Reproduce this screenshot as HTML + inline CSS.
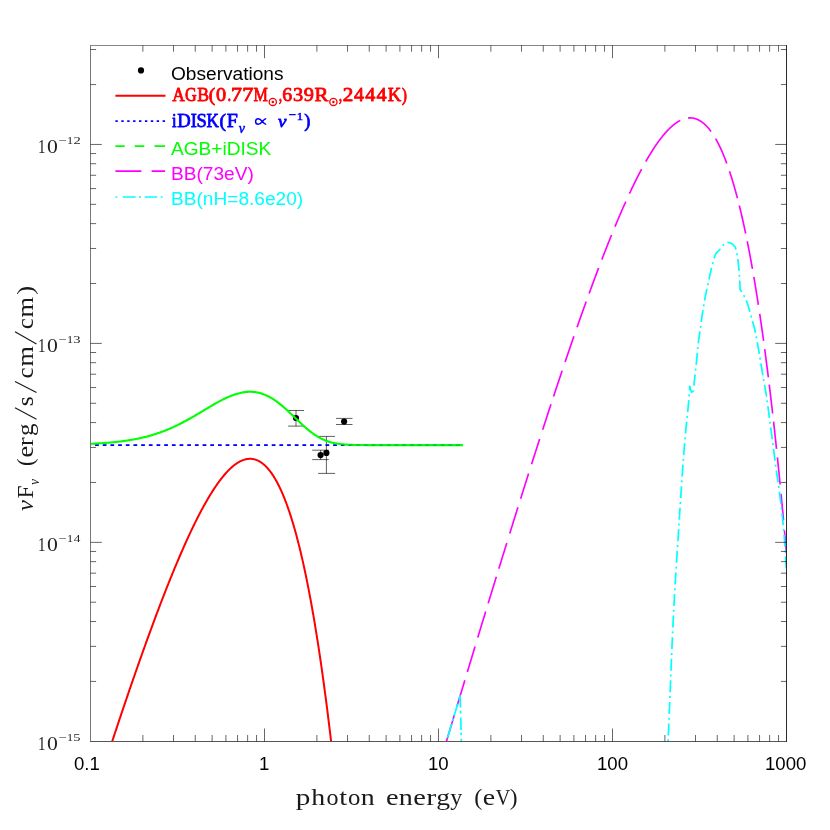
<!DOCTYPE html><html><head><meta charset="utf-8"><title>SED</title><style>
html,body{margin:0;padding:0;background:#fff;}
body{width:830px;height:830px;position:relative;overflow:hidden;font-family:"Liberation Sans",sans-serif;}
.t{position:absolute;white-space:nowrap;line-height:1;will-change:transform;}
.sans{font-family:"Liberation Sans",sans-serif;}
svg text{white-space:pre}
</style></head><body>
<svg width="830" height="830" viewBox="0 0 830 830" style="position:absolute;left:0;top:0;will-change:transform">
<defs><clipPath id="cp"><rect x="90.50" y="45.40" width="696.60" height="696.30"/></clipPath></defs>
<g stroke="#000" stroke-opacity="0.62" stroke-width="1" fill="none">
<path d="M296.00,410.50 V426.10 M288.10,410.50 H304.00 M288.10,426.10 H304.00"/>
<path d="M320.60,450.20 V459.60 M312.20,450.20 H328.80 M312.20,459.60 H328.80"/>
<path d="M326.40,436.40 V473.40 M318.20,436.40 H335.10 M318.20,473.40 H335.10"/>
<path d="M344.10,418.40 V424.50 M336.00,418.40 H352.50 M336.00,424.50 H352.50"/>
</g>
<circle cx="296.00" cy="418.00" r="3.1" fill="#000"/>
<circle cx="320.60" cy="455.10" r="3.1" fill="#000"/>
<circle cx="326.40" cy="452.90" r="3.1" fill="#000"/>
<circle cx="344.10" cy="421.60" r="3.1" fill="#000"/>
<g clip-path="url(#cp)" fill="none" stroke-linejoin="round">
<path d="M90.50,808.35 L91.14,806.33 L91.79,804.31 L92.43,802.29 L93.08,800.28 L93.72,798.27 L94.36,796.26 L95.01,794.25 L95.65,792.24 L96.30,790.23 L96.94,788.23 L97.59,786.23 L98.23,784.23 L98.87,782.23 L99.52,780.23 L100.16,778.24 L100.81,776.25 L101.45,774.26 L102.09,772.27 L102.74,770.28 L103.38,768.30 L104.03,766.32 L104.67,764.34 L105.32,762.36 L105.96,760.38 L106.60,758.41 L107.25,756.44 L107.89,754.47 L108.54,752.50 L109.18,750.54 L109.82,748.58 L110.47,746.62 L111.11,744.66 L111.76,742.71 L112.40,740.75 L113.05,738.80 L113.69,736.86 L114.33,734.91 L114.98,732.97 L115.62,731.03 L116.27,729.09 L116.91,727.15 L117.55,725.22 L118.20,723.29 L118.84,721.36 L119.49,719.44 L120.13,717.52 L120.78,715.60 L121.42,713.68 L122.06,711.77 L122.71,709.86 L123.35,707.95 L124.00,706.04 L124.64,704.14 L125.28,702.24 L125.93,700.35 L126.57,698.45 L127.22,696.56 L127.86,694.67 L128.51,692.79 L129.15,690.91 L129.79,689.03 L130.44,687.15 L131.08,685.28 L131.73,683.41 L132.37,681.55 L133.01,679.69 L133.66,677.83 L134.30,675.97 L134.95,674.12 L135.59,672.27 L136.24,670.43 L136.88,668.58 L137.52,666.75 L138.17,664.91 L138.81,663.08 L139.46,661.25 L140.10,659.43 L140.74,657.61 L141.39,655.79 L142.03,653.98 L142.68,652.17 L143.32,650.37 L143.97,648.57 L144.61,646.77 L145.25,644.98 L145.90,643.19 L146.54,641.40 L147.19,639.62 L147.83,637.85 L148.47,636.08 L149.12,634.31 L149.76,632.55 L150.41,630.79 L151.05,629.03 L151.70,627.28 L152.34,625.54 L152.98,623.79 L153.63,622.06 L154.27,620.33 L154.92,618.60 L155.56,616.88 L156.20,615.16 L156.85,613.45 L157.49,611.74 L158.14,610.03 L158.78,608.34 L159.42,606.64 L160.07,604.96 L160.71,603.27 L161.36,601.60 L162.00,599.92 L162.65,598.26 L163.29,596.60 L163.93,594.94 L164.58,593.29 L165.22,591.64 L165.87,590.00 L166.51,588.37 L167.15,586.74 L167.80,585.12 L168.44,583.50 L169.09,581.89 L169.73,580.29 L170.38,578.69 L171.02,577.10 L171.66,575.51 L172.31,573.93 L172.95,572.36 L173.60,570.79 L174.24,569.23 L174.88,567.68 L175.53,566.13 L176.17,564.59 L176.82,563.06 L177.46,561.53 L178.11,560.01 L178.75,558.50 L179.39,556.99 L180.04,555.49 L180.68,554.00 L181.33,552.52 L181.97,551.04 L182.61,549.57 L183.26,548.11 L183.90,546.65 L184.55,545.21 L185.19,543.77 L185.84,542.34 L186.48,540.91 L187.12,539.50 L187.77,538.09 L188.41,536.69 L189.06,535.30 L189.70,533.92 L190.34,532.55 L190.99,531.18 L191.63,529.82 L192.28,528.48 L192.92,527.14 L193.57,525.81 L194.21,524.49 L194.85,523.18 L195.50,521.87 L196.14,520.58 L196.79,519.30 L197.43,518.03 L198.07,516.76 L198.72,515.51 L199.36,514.26 L200.01,513.03 L200.65,511.80 L201.30,510.59 L201.94,509.39 L202.58,508.19 L203.23,507.01 L203.87,505.84 L204.52,504.68 L205.16,503.53 L205.80,502.39 L206.45,501.26 L207.09,500.14 L207.74,499.04 L208.38,497.94 L209.03,496.86 L209.67,495.79 L210.31,494.73 L210.96,493.69 L211.60,492.65 L212.25,491.63 L212.89,490.62 L213.53,489.63 L214.18,488.64 L214.82,487.67 L215.47,486.71 L216.11,485.77 L216.75,484.84 L217.40,483.92 L218.04,483.01 L218.69,482.12 L219.33,481.25 L219.98,480.38 L220.62,479.53 L221.26,478.70 L221.91,477.88 L222.55,477.07 L223.20,476.28 L223.84,475.51 L224.48,474.75 L225.13,474.00 L225.77,473.27 L226.42,472.56 L227.06,471.86 L227.71,471.18 L228.35,470.51 L228.99,469.86 L229.64,469.23 L230.28,468.61 L230.93,468.01 L231.57,467.43 L232.21,466.86 L232.86,466.32 L233.50,465.79 L234.15,465.27 L234.79,464.78 L235.44,464.30 L236.08,463.84 L236.72,463.40 L237.37,462.98 L238.01,462.58 L238.66,462.20 L239.30,461.83 L239.94,461.49 L240.59,461.16 L241.23,460.86 L241.88,460.57 L242.52,460.31 L243.17,460.07 L243.81,459.84 L244.45,459.64 L245.10,459.46 L245.74,459.30 L246.39,459.16 L247.03,459.05 L247.67,458.95 L248.32,458.88 L248.96,458.83 L249.61,458.80 L250.25,458.80 L250.90,458.82 L251.54,458.86 L252.18,458.93 L252.83,459.02 L253.47,459.14 L254.12,459.28 L254.76,459.44 L255.40,459.63 L256.05,459.84 L256.69,460.08 L257.34,460.35 L257.98,460.64 L258.63,460.95 L259.27,461.30 L259.91,461.67 L260.56,462.06 L261.20,462.49 L261.85,462.94 L262.49,463.42 L263.13,463.93 L263.78,464.46 L264.42,465.03 L265.07,465.62 L265.71,466.24 L266.36,466.89 L267.00,467.57 L267.64,468.28 L268.29,469.02 L268.93,469.80 L269.58,470.60 L270.22,471.43 L270.86,472.29 L271.51,473.19 L272.15,474.12 L272.80,475.08 L273.44,476.07 L274.09,477.10 L274.73,478.16 L275.37,479.25 L276.02,480.38 L276.66,481.54 L277.31,482.73 L277.95,483.96 L278.59,485.22 L279.24,486.52 L279.88,487.86 L280.53,489.23 L281.17,490.64 L281.81,492.08 L282.46,493.57 L283.10,495.08 L283.75,496.64 L284.39,498.24 L285.04,499.87 L285.68,501.54 L286.32,503.25 L286.97,505.00 L287.61,506.79 L288.26,508.62 L288.90,510.49 L289.54,512.40 L290.19,514.36 L290.83,516.35 L291.48,518.39 L292.12,520.46 L292.77,522.59 L293.41,524.75 L294.05,526.96 L294.70,529.21 L295.34,531.51 L295.99,533.85 L296.63,536.23 L297.27,538.66 L297.92,541.14 L298.56,543.66 L299.21,546.23 L299.85,548.85 L300.50,551.51 L301.14,554.22 L301.78,556.98 L302.43,559.79 L303.07,562.65 L303.72,565.56 L304.36,568.51 L305.00,571.52 L305.65,574.58 L306.29,577.69 L306.94,580.85 L307.58,584.07 L308.23,587.33 L308.87,590.65 L309.51,594.03 L310.16,597.45 L310.80,600.93 L311.45,604.47 L312.09,608.06 L312.73,611.71 L313.38,615.41 L314.02,619.18 L314.67,622.99 L315.31,626.87 L315.96,630.81 L316.60,634.80 L317.24,638.85 L317.89,642.96 L318.53,647.14 L319.18,651.37 L319.82,655.67 L320.46,660.02 L321.11,664.44 L321.75,668.93 L322.40,673.47 L323.04,678.08 L323.69,682.76 L324.33,687.50 L324.97,692.31 L325.62,697.18 L326.26,702.12 L326.91,707.13 L327.55,712.20 L328.19,717.35 L328.84,722.56 L329.48,727.84 L330.13,733.20 L330.77,738.62 L331.42,744.12 L332.06,749.68 L332.70,755.33 L333.35,761.04 L333.99,766.83 L334.64,772.69 L335.28,778.63 L335.92,784.65 L336.57,790.74 L337.21,796.91 L337.86,803.15 L338.50,809.48 L339.15,815.89 L339.79,822.37 L340.43,828.94 L341.08,835.58 L341.72,842.31 L342.37,849.13 L343.01,856.02 L343.65,863.00 L344.30,870.07 L344.94,877.22 L345.59,884.46 L346.23,891.78 L346.87,899.19 L347.52,906.69" stroke="#ff0000" stroke-width="2"/>
<path d="M90.50,445.10 L462.90,445.10" stroke="#0000ff" stroke-width="1.9" stroke-dasharray="3.7 3.98" stroke-dashoffset="3.08"/>
<path d="M90.50,443.82 L91.43,443.77 L92.36,443.73 L93.29,443.68 L94.22,443.63 L95.15,443.58 L96.08,443.53 L97.01,443.48 L97.94,443.42 L98.87,443.37 L99.80,443.31 L100.73,443.25 L101.66,443.19 L102.60,443.13 L103.53,443.06 L104.46,442.99 L105.39,442.92 L106.32,442.85 L107.25,442.78 L108.18,442.70 L109.11,442.62 L110.04,442.54 L110.97,442.45 L111.90,442.37 L112.83,442.28 L113.76,442.19 L114.69,442.09 L115.62,442.00 L116.55,441.90 L117.48,441.79 L118.41,441.69 L119.34,441.58 L120.27,441.46 L121.20,441.35 L122.13,441.23 L123.06,441.11 L123.99,440.98 L124.93,440.85 L125.86,440.72 L126.79,440.58 L127.72,440.44 L128.65,440.29 L129.58,440.15 L130.51,439.99 L131.44,439.83 L132.37,439.67 L133.30,439.51 L134.23,439.34 L135.16,439.16 L136.09,438.98 L137.02,438.80 L137.95,438.61 L138.88,438.41 L139.81,438.21 L140.74,438.01 L141.67,437.80 L142.60,437.59 L143.53,437.37 L144.46,437.14 L145.39,436.91 L146.32,436.67 L147.26,436.43 L148.19,436.18 L149.12,435.93 L150.05,435.67 L150.98,435.40 L151.91,435.13 L152.84,434.86 L153.77,434.57 L154.70,434.28 L155.63,433.98 L156.56,433.68 L157.49,433.37 L158.42,433.06 L159.35,432.73 L160.28,432.41 L161.21,432.07 L162.14,431.73 L163.07,431.38 L164.00,431.02 L164.93,430.66 L165.86,430.29 L166.79,429.92 L167.72,429.53 L168.65,429.15 L169.59,428.75 L170.52,428.35 L171.45,427.94 L172.38,427.52 L173.31,427.10 L174.24,426.67 L175.17,426.24 L176.10,425.80 L177.03,425.35 L177.96,424.89 L178.89,424.43 L179.82,423.97 L180.75,423.49 L181.68,423.02 L182.61,422.53 L183.54,422.04 L184.47,421.55 L185.40,421.05 L186.33,420.54 L187.26,420.03 L188.19,419.52 L189.12,419.00 L190.05,418.47 L190.98,417.95 L191.92,417.41 L192.85,416.88 L193.78,416.34 L194.71,415.80 L195.64,415.25 L196.57,414.70 L197.50,414.15 L198.43,413.60 L199.36,413.05 L200.29,412.49 L201.22,411.94 L202.15,411.38 L203.08,410.82 L204.01,410.26 L204.94,409.71 L205.87,409.15 L206.80,408.59 L207.73,408.04 L208.66,407.48 L209.59,406.93 L210.52,406.39 L211.45,405.84 L212.38,405.30 L213.31,404.76 L214.25,404.23 L215.18,403.70 L216.11,403.17 L217.04,402.66 L217.97,402.14 L218.90,401.64 L219.83,401.14 L220.76,400.65 L221.69,400.17 L222.62,399.69 L223.55,399.23 L224.48,398.77 L225.41,398.32 L226.34,397.89 L227.27,397.46 L228.20,397.05 L229.13,396.65 L230.06,396.26 L230.99,395.88 L231.92,395.52 L232.85,395.17 L233.78,394.83 L234.71,394.51 L235.64,394.21 L236.58,393.92 L237.51,393.65 L238.44,393.39 L239.37,393.15 L240.30,392.93 L241.23,392.73 L242.16,392.55 L243.09,392.38 L244.02,392.23 L244.95,392.11 L245.88,392.00 L246.81,391.92 L247.74,391.85 L248.67,391.81 L249.60,391.79 L250.53,391.79 L251.46,391.81 L252.39,391.86 L253.32,391.93 L254.25,392.02 L255.18,392.14 L256.11,392.28 L257.04,392.44 L257.97,392.63 L258.91,392.84 L259.84,393.07 L260.77,393.34 L261.70,393.62 L262.63,393.93 L263.56,394.26 L264.49,394.62 L265.42,395.01 L266.35,395.42 L267.28,395.85 L268.21,396.31 L269.14,396.79 L270.07,397.29 L271.00,397.82 L271.93,398.37 L272.86,398.94 L273.79,399.54 L274.72,400.16 L275.65,400.80 L276.58,401.46 L277.51,402.14 L278.44,402.85 L279.37,403.57 L280.30,404.31 L281.24,405.06 L282.17,405.84 L283.10,406.63 L284.03,407.43 L284.96,408.25 L285.89,409.09 L286.82,409.93 L287.75,410.79 L288.68,411.65 L289.61,412.53 L290.54,413.41 L291.47,414.30 L292.40,415.19 L293.33,416.09 L294.26,416.99 L295.19,417.89 L296.12,418.79 L297.05,419.68 L297.98,420.58 L298.91,421.47 L299.84,422.36 L300.77,423.23 L301.70,424.11 L302.63,424.97 L303.57,425.82 L304.50,426.65 L305.43,427.48 L306.36,428.29 L307.29,429.08 L308.22,429.86 L309.15,430.62 L310.08,431.36 L311.01,432.08 L311.94,432.78 L312.87,433.47 L313.80,434.13 L314.73,434.76 L315.66,435.38 L316.59,435.97 L317.52,436.54 L318.45,437.09 L319.38,437.62 L320.31,438.12 L321.24,438.60 L322.17,439.05 L323.10,439.49 L324.03,439.90 L324.96,440.29 L325.90,440.65 L326.83,441.00 L327.76,441.33 L328.69,441.63 L329.62,441.92 L330.55,442.19 L331.48,442.44 L332.41,442.67 L333.34,442.89 L334.27,443.09 L335.20,443.28 L336.13,443.45 L337.06,443.61 L337.99,443.76 L338.92,443.89 L339.85,444.01 L340.78,444.13 L341.71,444.23 L342.64,444.32 L343.57,444.41 L344.50,444.48 L345.43,444.55 L346.36,444.62 L347.29,444.67 L348.23,444.72 L349.16,444.77 L350.09,444.81 L351.02,444.84 L351.95,444.88 L352.88,444.90 L353.81,444.93 L354.74,444.95 L355.67,444.97 L356.60,444.99 L357.53,445.00 L358.46,445.02 L359.39,445.03 L360.32,445.04 L361.25,445.05 L362.18,445.05 L363.11,445.06 L364.04,445.07 L364.97,445.07 L365.90,445.08 L366.83,445.08 L367.76,445.08 L368.69,445.08 L369.62,445.09 L370.56,445.09 L371.49,445.09 L372.42,445.09 L373.35,445.09 L374.28,445.09 L375.21,445.09 L376.14,445.09 L377.07,445.09 L378.00,445.09 L378.93,445.10 L379.86,445.10 L380.79,445.10 L381.72,445.10 L382.65,445.10 L383.58,445.10 L384.51,445.10 L385.44,445.10 L386.37,445.10 L387.30,445.10 L388.23,445.10 L389.16,445.10 L390.09,445.10 L391.02,445.10 L391.95,445.10 L392.89,445.10 L393.82,445.10 L394.75,445.10 L395.68,445.10 L396.61,445.10 L397.54,445.10 L398.47,445.10 L399.40,445.10 L400.33,445.10 L401.26,445.10 L402.19,445.10 L403.12,445.10 L404.05,445.10 L404.98,445.10 L405.91,445.10 L406.84,445.10 L407.77,445.10 L408.70,445.10 L409.63,445.10 L410.56,445.10 L411.49,445.10 L412.42,445.10 L413.35,445.10 L414.28,445.10 L415.21,445.10 L416.15,445.10 L417.08,445.10 L418.01,445.10 L418.94,445.10 L419.87,445.10 L420.80,445.10 L421.73,445.10 L422.66,445.10 L423.59,445.10 L424.52,445.10 L425.45,445.10 L426.38,445.10 L427.31,445.10 L428.24,445.10 L429.17,445.10 L430.10,445.10 L431.03,445.10 L431.96,445.10 L432.89,445.10 L433.82,445.10 L434.75,445.10 L435.68,445.10 L436.61,445.10 L437.54,445.10 L438.48,445.10 L439.41,445.10 L440.34,445.10 L441.27,445.10 L442.20,445.10 L443.13,445.10 L444.06,445.10 L444.99,445.10 L445.92,445.10 L446.85,445.10 L447.78,445.10 L448.71,445.10 L449.64,445.10 L450.57,445.10 L451.50,445.10 L452.43,445.10 L453.36,445.10 L454.29,445.10 L455.22,445.10 L456.15,445.10 L457.08,445.10 L458.01,445.10 L458.94,445.10 L459.87,445.10 L460.81,445.10 L461.74,445.10 L462.90,445.10" stroke="#00ff00" stroke-width="2.1"/>
<path d="M90.50,445.10 L462.90,445.10" stroke="#0000ff" stroke-opacity="0.2" stroke-width="1.9" stroke-dasharray="3.7 3.98" stroke-dashoffset="3.08"/>
<path d="M446.47,741.30 L446.70,740.54 L446.93,739.79 L447.15,739.03 L447.38,738.27 L447.61,737.51 L447.83,736.76 L448.06,736.00 L448.29,735.24 L448.51,734.49 L448.74,733.73 L448.97,732.97 L449.20,732.22 L449.42,731.46 L449.65,730.70 L449.88,729.95 L450.10,729.19 L450.33,728.44 L450.56,727.68 L450.78,726.92 L451.01,726.17 L451.24,725.41 L451.46,724.65 L451.69,723.90 L451.92,723.14 L452.14,722.39 L452.37,721.63 L452.60,720.88 L452.82,720.12 L453.05,719.37 L453.28,718.61 L453.51,717.85 L453.73,717.10 L453.96,716.34 L454.19,715.59 L454.41,714.83 L454.64,714.08 L454.87,713.32 L455.09,712.57 L455.32,711.82 L455.55,711.06 L455.77,710.31 L456.00,709.55 L456.23,708.80 L456.45,708.04 L456.68,707.29 L456.91,706.53 L457.13,705.78 L457.36,705.03 L457.59,704.27 L457.81,703.52 L458.04,702.76 L458.27,702.01 L458.50,701.26 L458.72,700.50 L458.95,699.75 L459.18,699.00 L459.40,698.24 L459.63,697.49 L459.86,696.74 L460.08,695.98 L460.31,695.23 L460.54,694.48 L460.76,693.72 L460.99,692.97 L461.22,692.22 L461.44,691.47 L461.67,690.71 L461.90,689.96 L462.12,689.21 L462.35,688.46 L462.58,687.70 L462.81,686.95 L463.03,686.20 L463.26,685.45 L463.49,684.70 L463.71,683.94 L463.94,683.19 L464.17,682.44 L464.39,681.69 L464.62,680.94 L464.85,680.19 L465.07,679.43 L465.30,678.68 L465.53,677.93 L465.75,677.18 L465.98,676.43 L466.21,675.68 L466.43,674.93 L466.66,674.18 L466.89,673.43 L467.12,672.68 L467.34,671.93 L467.57,671.18 L467.80,670.42 L468.02,669.67 L468.25,668.92 L468.48,668.17 L468.70,667.42 L468.93,666.67 L469.16,665.92 L469.38,665.17 L469.61,664.43 L469.84,663.68 L470.06,662.93 L470.29,662.18 L470.52,661.43 L470.74,660.68 L470.97,659.93 L471.20,659.18 L471.43,658.43 L471.65,657.68 L471.88,656.93 L472.11,656.18 L472.33,655.44 L472.56,654.69 L472.79,653.94 L473.01,653.19 L473.24,652.44 L473.47,651.69 L473.69,650.95 L473.92,650.20 L474.15,649.45 L474.37,648.70 L474.60,647.96 L474.83,647.21 L475.05,646.46 L475.28,645.71 L475.51,644.97 L475.74,644.22 L475.96,643.47 L476.19,642.72 L476.42,641.98 L476.64,641.23 L476.87,640.48 L477.10,639.74 L477.32,638.99 L477.55,638.24 L477.78,637.50 L478.00,636.75 L478.23,636.01 L478.46,635.26 L478.68,634.51 L478.91,633.77 L479.14,633.02 L479.36,632.28 L479.59,631.53 L479.82,630.79 L480.04,630.04 L480.27,629.30 L480.50,628.55 L480.73,627.81 L480.95,627.06 L481.18,626.32 L481.41,625.57 L481.63,624.83 L481.86,624.08 L482.09,623.34 L482.31,622.59 L482.54,621.85 L482.77,621.11 L482.99,620.36 L483.22,619.62 L483.45,618.87 L483.67,618.13 L483.90,617.39 L484.13,616.64 L484.35,615.90 L484.58,615.16 L484.81,614.41 L485.04,613.67 L485.26,612.93 L485.49,612.19 L485.72,611.44 L485.94,610.70 L486.17,609.96 L486.40,609.22 L486.62,608.47 L486.85,607.73 L487.08,606.99 L487.30,606.25 L487.53,605.51 L487.76,604.76 L487.98,604.02 L488.21,603.28 L488.44,602.54 L488.66,601.80 L488.89,601.06 L489.12,600.32 L489.35,599.58 L489.57,598.84 L489.80,598.09 L490.03,597.35 L490.25,596.61 L490.48,595.87 L490.71,595.13 L490.93,594.39 L491.16,593.65 L491.39,592.91 L491.61,592.17 L491.84,591.43 L492.07,590.70 L492.29,589.96 L492.52,589.22 L492.75,588.48 L492.97,587.74 L493.20,587.00 L493.43,586.26 L493.66,585.52 L493.88,584.78 L494.11,584.05 L494.34,583.31 L494.56,582.57 L494.79,581.83 L495.02,581.09 L495.24,580.36 L495.47,579.62 L495.70,578.88 L495.92,578.15 L496.15,577.41 L496.38,576.67 L496.60,575.93 L496.83,575.20 L497.06,574.46 L497.28,573.72 L497.51,572.99 L497.74,572.25 L497.96,571.52 L498.19,570.78 L498.42,570.04 L498.65,569.31 L498.87,568.57 L499.10,567.84 L499.33,567.10 L499.55,566.37 L499.78,565.63 L500.01,564.90 L500.23,564.16 L500.46,563.43 L500.69,562.69 L500.91,561.96 L501.14,561.22 L501.37,560.49 L501.59,559.76 L501.82,559.02 L502.05,558.29 L502.27,557.56 L502.50,556.82 L502.73,556.09 L502.96,555.36 L503.18,554.62 L503.41,553.89 L503.64,553.16 L503.86,552.43 L504.09,551.69 L504.32,550.96 L504.54,550.23 L504.77,549.50 L505.00,548.76 L505.22,548.03 L505.45,547.30 L505.68,546.57 L505.90,545.84 L506.13,545.11 L506.36,544.38 L506.58,543.65 L506.81,542.92 L507.04,542.19 L507.27,541.46 L507.49,540.73 L507.72,540.00 L507.95,539.27 L508.17,538.54 L508.40,537.81 L508.63,537.08 L508.85,536.35 L509.08,535.62 L509.31,534.89 L509.53,534.16 L509.76,533.43 L509.99,532.70 L510.21,531.98 L510.44,531.25 L510.67,530.52 L510.89,529.79 L511.12,529.06 L511.35,528.34 L511.58,527.61 L511.80,526.88 L512.03,526.16 L512.26,525.43 L512.48,524.70 L512.71,523.98 L512.94,523.25 L513.16,522.52 L513.39,521.80 L513.62,521.07 L513.84,520.35 L514.07,519.62 L514.30,518.89 L514.52,518.17 L514.75,517.44 L514.98,516.72 L515.20,515.99 L515.43,515.27 L515.66,514.55 L515.88,513.82 L516.11,513.10 L516.34,512.37 L516.57,511.65 L516.79,510.93 L517.02,510.20 L517.25,509.48 L517.47,508.76 L517.70,508.03 L517.93,507.31 L518.15,506.59 L518.38,505.87 L518.61,505.15 L518.83,504.42 L519.06,503.70 L519.29,502.98 L519.51,502.26 L519.74,501.54 L519.97,500.82 L520.19,500.10 L520.42,499.38 L520.65,498.66 L520.88,497.93 L521.10,497.21 L521.33,496.50 L521.56,495.78 L521.78,495.06 L522.01,494.34 L522.24,493.62 L522.46,492.90 L522.69,492.18 L522.92,491.46 L523.14,490.74 L523.37,490.02 L523.60,489.31 L523.82,488.59 L524.05,487.87 L524.28,487.15 L524.50,486.44 L524.73,485.72 L524.96,485.00 L525.19,484.29 L525.41,483.57 L525.64,482.85 L525.87,482.14 L526.09,481.42 L526.32,480.71 L526.55,479.99 L526.77,479.28 L527.00,478.56 L527.23,477.85 L527.45,477.13 L527.68,476.42 L527.91,475.70 L528.13,474.99 L528.36,474.28 L528.59,473.56 L528.81,472.85 L529.04,472.14 L529.27,471.42 L529.50,470.71 L529.72,470.00 L529.95,469.28 L530.18,468.57 L530.40,467.86 L530.63,467.15 L530.86,466.44 L531.08,465.73 L531.31,465.02 L531.54,464.30 L531.76,463.59 L531.99,462.88 L532.22,462.17 L532.44,461.46 L532.67,460.75 L532.90,460.04 L533.12,459.33 L533.35,458.63 L533.58,457.92 L533.80,457.21 L534.03,456.50 L534.26,455.79 L534.49,455.08 L534.71,454.38 L534.94,453.67 L535.17,452.96 L535.39,452.25 L535.62,451.55 L535.85,450.84 L536.07,450.13 L536.30,449.43 L536.53,448.72 L536.75,448.02 L536.98,447.31 L537.21,446.61 L537.43,445.90 L537.66,445.20 L537.89,444.49 L538.11,443.79 L538.34,443.08 L538.57,442.38 L538.80,441.68 L539.02,440.97 L539.25,440.27 L539.48,439.57 L539.70,438.87 L539.93,438.16 L540.16,437.46 L540.38,436.76 L540.61,436.06 L540.84,435.36 L541.06,434.66 L541.29,433.95 L541.52,433.25 L541.74,432.55 L541.97,431.85 L542.20,431.15 L542.42,430.45 L542.65,429.76 L542.88,429.06 L543.11,428.36 L543.33,427.66 L543.56,426.96 L543.79,426.26 L544.01,425.57 L544.24,424.87 L544.47,424.17 L544.69,423.47 L544.92,422.78 L545.15,422.08 L545.37,421.38 L545.60,420.69 L545.83,419.99 L546.05,419.30 L546.28,418.60 L546.51,417.91 L546.73,417.21 L546.96,416.52 L547.19,415.83 L547.42,415.13 L547.64,414.44 L547.87,413.75 L548.10,413.05 L548.32,412.36 L548.55,411.67 L548.78,410.98 L549.00,410.28 L549.23,409.59 L549.46,408.90 L549.68,408.21 L549.91,407.52 L550.14,406.83 L550.36,406.14 L550.59,405.45 L550.82,404.76 L551.04,404.07 L551.27,403.38 L551.50,402.69 L551.72,402.01 L551.95,401.32 L552.18,400.63 L552.41,399.94 L552.63,399.26 L552.86,398.57 L553.09,397.88 L553.31,397.20 L553.54,396.51 L553.77,395.83 L553.99,395.14 L554.22,394.45 L554.45,393.77 L554.67,393.09 L554.90,392.40 L555.13,391.72 L555.35,391.03 L555.58,390.35 L555.81,389.67 L556.03,388.99 L556.26,388.30 L556.49,387.62 L556.72,386.94 L556.94,386.26 L557.17,385.58 L557.40,384.90 L557.62,384.22 L557.85,383.54 L558.08,382.86 L558.30,382.18 L558.53,381.50 L558.76,380.82 L558.98,380.14 L559.21,379.47 L559.44,378.79 L559.66,378.11 L559.89,377.43 L560.12,376.76 L560.34,376.08 L560.57,375.41 L560.80,374.73 L561.03,374.05 L561.25,373.38 L561.48,372.70 L561.71,372.03 L561.93,371.36 L562.16,370.68 L562.39,370.01 L562.61,369.34 L562.84,368.66 L563.07,367.99 L563.29,367.32 L563.52,366.65 L563.75,365.98 L563.97,365.31 L564.20,364.64 L564.43,363.97 L564.65,363.30 L564.88,362.63 L565.11,361.96 L565.34,361.29 L565.56,360.62 L565.79,359.95 L566.02,359.29 L566.24,358.62 L566.47,357.95 L566.70,357.29 L566.92,356.62 L567.15,355.96 L567.38,355.29 L567.60,354.63 L567.83,353.96 L568.06,353.30 L568.28,352.63 L568.51,351.97 L568.74,351.31 L568.96,350.64 L569.19,349.98 L569.42,349.32 L569.65,348.66 L569.87,348.00 L570.10,347.34 L570.33,346.68 L570.55,346.02 L570.78,345.36 L571.01,344.70 L571.23,344.04 L571.46,343.38 L571.69,342.72 L571.91,342.07 L572.14,341.41 L572.37,340.75 L572.59,340.10 L572.82,339.44 L573.05,338.79 L573.27,338.13 L573.50,337.48 L573.73,336.82 L573.95,336.17 L574.18,335.52 L574.41,334.86 L574.64,334.21 L574.86,333.56 L575.09,332.91 L575.32,332.26 L575.54,331.60 L575.77,330.95 L576.00,330.30 L576.22,329.65 L576.45,329.01 L576.68,328.36 L576.90,327.71 L577.13,327.06 L577.36,326.41 L577.58,325.77 L577.81,325.12 L578.04,324.47 L578.26,323.83 L578.49,323.18 L578.72,322.54 L578.95,321.90 L579.17,321.25 L579.40,320.61 L579.63,319.97 L579.85,319.32 L580.08,318.68 L580.31,318.04 L580.53,317.40 L580.76,316.76 L580.99,316.12 L581.21,315.48 L581.44,314.84 L581.67,314.20 L581.89,313.56 L582.12,312.93 L582.35,312.29 L582.57,311.65 L582.80,311.02 L583.03,310.38 L583.26,309.74 L583.48,309.11 L583.71,308.48 L583.94,307.84 L584.16,307.21 L584.39,306.58 L584.62,305.94 L584.84,305.31 L585.07,304.68 L585.30,304.05 L585.52,303.42 L585.75,302.79 L585.98,302.16 L586.20,301.53 L586.43,300.90 L586.66,300.28 L586.88,299.65 L587.11,299.02 L587.34,298.39 L587.57,297.77 L587.79,297.14 L588.02,296.52 L588.25,295.90 L588.47,295.27 L588.70,294.65 L588.93,294.03 L589.15,293.40 L589.38,292.78 L589.61,292.16 L589.83,291.54 L590.06,290.92 L590.29,290.30 L590.51,289.68 L590.74,289.06 L590.97,288.45 L591.19,287.83 L591.42,287.21 L591.65,286.60 L591.87,285.98 L592.10,285.37 L592.33,284.75 L592.56,284.14 L592.78,283.53 L593.01,282.91 L593.24,282.30 L593.46,281.69 L593.69,281.08 L593.92,280.47 L594.14,279.86 L594.37,279.25 L594.60,278.64 L594.82,278.03 L595.05,277.43 L595.28,276.82 L595.50,276.21 L595.73,275.61 L595.96,275.00 L596.18,274.40 L596.41,273.79 L596.64,273.19 L596.87,272.59 L597.09,271.98 L597.32,271.38 L597.55,270.78 L597.77,270.18 L598.00,269.58 L598.23,268.98 L598.45,268.39 L598.68,267.79 L598.91,267.19 L599.13,266.59 L599.36,266.00 L599.59,265.40 L599.81,264.81 L600.04,264.21 L600.27,263.62 L600.49,263.03 L600.72,262.44 L600.95,261.84 L601.18,261.25 L601.40,260.66 L601.63,260.07 L601.86,259.49 L602.08,258.90 L602.31,258.31 L602.54,257.72 L602.76,257.14 L602.99,256.55 L603.22,255.97 L603.44,255.38 L603.67,254.80 L603.90,254.22 L604.12,253.63 L604.35,253.05 L604.58,252.47 L604.80,251.89 L605.03,251.31 L605.26,250.73 L605.49,250.16 L605.71,249.58 L605.94,249.00 L606.17,248.43 L606.39,247.85 L606.62,247.28 L606.85,246.70 L607.07,246.13 L607.30,245.56 L607.53,244.99 L607.75,244.42 L607.98,243.85 L608.21,243.28 L608.43,242.71 L608.66,242.14 L608.89,241.57 L609.11,241.01 L609.34,240.44 L609.57,239.88 L609.79,239.31 L610.02,238.75 L610.25,238.19 L610.48,237.62 L610.70,237.06 L610.93,236.50 L611.16,235.94 L611.38,235.38 L611.61,234.83 L611.84,234.27 L612.06,233.71 L612.29,233.16 L612.52,232.60 L612.74,232.05 L612.97,231.49 L613.20,230.94 L613.42,230.39 L613.65,229.84 L613.88,229.29 L614.10,228.74 L614.33,228.19 L614.56,227.64 L614.79,227.10 L615.01,226.55 L615.24,226.00 L615.47,225.46 L615.69,224.92 L615.92,224.37 L616.15,223.83 L616.37,223.29 L616.60,222.75 L616.83,222.21 L617.05,221.67 L617.28,221.13 L617.51,220.60 L617.73,220.06 L617.96,219.53 L618.19,218.99 L618.41,218.46 L618.64,217.93 L618.87,217.39 L619.10,216.86 L619.32,216.33 L619.55,215.80 L619.78,215.28 L620.00,214.75 L620.23,214.22 L620.46,213.70 L620.68,213.17 L620.91,212.65 L621.14,212.13 L621.36,211.60 L621.59,211.08 L621.82,210.56 L622.04,210.04 L622.27,209.52 L622.50,209.01 L622.72,208.49 L622.95,207.98 L623.18,207.46 L623.41,206.95 L623.63,206.44 L623.86,205.92 L624.09,205.41 L624.31,204.90 L624.54,204.39 L624.77,203.89 L624.99,203.38 L625.22,202.87 L625.45,202.37 L625.67,201.86 L625.90,201.36 L626.13,200.86 L626.35,200.36 L626.58,199.86 L626.81,199.36 L627.03,198.86 L627.26,198.37 L627.49,197.87 L627.71,197.37 L627.94,196.88 L628.17,196.39 L628.40,195.90 L628.62,195.40 L628.85,194.91 L629.08,194.43 L629.30,193.94 L629.53,193.45 L629.76,192.97 L629.98,192.48 L630.21,192.00 L630.44,191.52 L630.66,191.03 L630.89,190.55 L631.12,190.07 L631.34,189.60 L631.57,189.12 L631.80,188.64 L632.02,188.17 L632.25,187.69 L632.48,187.22 L632.71,186.75 L632.93,186.28 L633.16,185.81 L633.39,185.34 L633.61,184.87 L633.84,184.41 L634.07,183.94 L634.29,183.48 L634.52,183.02 L634.75,182.56 L634.97,182.10 L635.20,181.64 L635.43,181.18 L635.65,180.72 L635.88,180.27 L636.11,179.81 L636.33,179.36 L636.56,178.91 L636.79,178.45 L637.02,178.00 L637.24,177.56 L637.47,177.11 L637.70,176.66 L637.92,176.22 L638.15,175.77 L638.38,175.33 L638.60,174.89 L638.83,174.45 L639.06,174.01 L639.28,173.57 L639.51,173.14 L639.74,172.70 L639.96,172.27 L640.19,171.83 L640.42,171.40 L640.64,170.97 L640.87,170.54 L641.10,170.12 L641.33,169.69 L641.55,169.26 L641.78,168.84 L642.01,168.42 L642.23,168.00 L642.46,167.58 L642.69,167.16 L642.91,166.74 L643.14,166.33 L643.37,165.91 L643.59,165.50 L643.82,165.09 L644.05,164.67 L644.27,164.27 L644.50,163.86 L644.73,163.45 L644.95,163.05 L645.18,162.64 L645.41,162.24 L645.63,161.84 L645.86,161.44 L646.09,161.04 L646.32,160.64 L646.54,160.25 L646.77,159.85 L647.00,159.46 L647.22,159.07 L647.45,158.68 L647.68,158.29 L647.90,157.90 L648.13,157.52 L648.36,157.13 L648.58,156.75 L648.81,156.37 L649.04,155.99 L649.26,155.61 L649.49,155.23 L649.72,154.86 L649.94,154.48 L650.17,154.11 L650.40,153.74 L650.63,153.37 L650.85,153.00 L651.08,152.64 L651.31,152.27 L651.53,151.91 L651.76,151.55 L651.99,151.19 L652.21,150.83 L652.44,150.47 L652.67,150.11 L652.89,149.76 L653.12,149.41 L653.35,149.06 L653.57,148.71 L653.80,148.36 L654.03,148.01 L654.25,147.67 L654.48,147.32 L654.71,146.98 L654.94,146.64 L655.16,146.30 L655.39,145.97 L655.62,145.63 L655.84,145.30 L656.07,144.97 L656.30,144.64 L656.52,144.31 L656.75,143.98 L656.98,143.66 L657.20,143.33 L657.43,143.01 L657.66,142.69 L657.88,142.37 L658.11,142.06 L658.34,141.74 L658.56,141.43 L658.79,141.12 L659.02,140.81 L659.25,140.50 L659.47,140.19 L659.70,139.89 L659.93,139.58 L660.15,139.28 L660.38,138.98 L660.61,138.69 L660.83,138.39 L661.06,138.10 L661.29,137.80 L661.51,137.51 L661.74,137.22 L661.97,136.94 L662.19,136.65 L662.42,136.37 L662.65,136.09 L662.87,135.81 L663.10,135.53 L663.33,135.25 L663.56,134.98 L663.78,134.71 L664.01,134.44 L664.24,134.17 L664.46,133.90 L664.69,133.64 L664.92,133.37 L665.14,133.11 L665.37,132.86 L665.60,132.60 L665.82,132.34 L666.05,132.09 L666.28,131.84 L666.50,131.59 L666.73,131.34 L666.96,131.10 L667.18,130.85 L667.41,130.61 L667.64,130.37 L667.86,130.14 L668.09,129.90 L668.32,129.67 L668.55,129.44 L668.77,129.21 L669.00,128.98 L669.23,128.75 L669.45,128.53 L669.68,128.31 L669.91,128.09 L670.13,127.87 L670.36,127.66 L670.59,127.45 L670.81,127.24 L671.04,127.03 L671.27,126.82 L671.49,126.62 L671.72,126.41 L671.95,126.21 L672.17,126.02 L672.40,125.82 L672.63,125.63 L672.86,125.44 L673.08,125.25 L673.31,125.06 L673.54,124.87 L673.76,124.69 L673.99,124.51 L674.22,124.33 L674.44,124.16 L674.67,123.98 L674.90,123.81 L675.12,123.64 L675.35,123.47 L675.58,123.31 L675.80,123.15 L676.03,122.99 L676.26,122.83 L676.48,122.67 L676.71,122.52 L676.94,122.37 L677.17,122.22 L677.39,122.07 L677.62,121.93 L677.85,121.79 L678.07,121.65 L678.30,121.51 L678.53,121.38 L678.75,121.25 L678.98,121.12 L679.21,120.99 L679.43,120.86 L679.66,120.74 L679.89,120.62 L680.11,120.50 L680.34,120.39 L680.57,120.28 L680.79,120.17 L681.02,120.06 L681.25,119.95 L681.48,119.85 L681.70,119.75 L681.93,119.65 L682.16,119.56 L682.38,119.46 L682.61,119.37 L682.84,119.29 L683.06,119.20 L683.29,119.12 L683.52,119.04 L683.74,118.96 L683.97,118.89 L684.20,118.81 L684.42,118.74 L684.65,118.68 L684.88,118.61 L685.10,118.55 L685.33,118.49 L685.56,118.44 L685.78,118.38 L686.01,118.33 L686.24,118.28 L686.47,118.24 L686.69,118.19 L686.92,118.15 L687.15,118.12 L687.37,118.08 L687.60,118.05 L687.83,118.02 L688.05,117.99 L688.28,117.97 L688.51,117.95 L688.73,117.93 L688.96,117.92 L689.19,117.90 L689.41,117.89 L689.64,117.89 L689.87,117.88 L690.09,117.88 L690.32,117.88 L690.55,117.89 L690.78,117.90 L691.00,117.91 L691.23,117.92 L691.46,117.94 L691.68,117.96 L691.91,117.98 L692.14,118.00 L692.36,118.03 L692.59,118.06 L692.82,118.10 L693.04,118.13 L693.27,118.17 L693.50,118.22 L693.72,118.26 L693.95,118.31 L694.18,118.36 L694.40,118.42 L694.63,118.48 L694.86,118.54 L695.09,118.60 L695.31,118.67 L695.54,118.74 L695.77,118.81 L695.99,118.89 L696.22,118.97 L696.45,119.05 L696.67,119.14 L696.90,119.23 L697.13,119.32 L697.35,119.42 L697.58,119.52 L697.81,119.62 L698.03,119.73 L698.26,119.84 L698.49,119.95 L698.71,120.06 L698.94,120.18 L699.17,120.30 L699.40,120.43 L699.62,120.56 L699.85,120.69 L700.08,120.82 L700.30,120.96 L700.53,121.10 L700.76,121.25 L700.98,121.40 L701.21,121.55 L701.44,121.71 L701.66,121.86 L701.89,122.03 L702.12,122.19 L702.34,122.36 L702.57,122.53 L702.80,122.71 L703.02,122.89 L703.25,123.07 L703.48,123.26 L703.70,123.45 L703.93,123.64 L704.16,123.84 L704.39,124.04 L704.61,124.24 L704.84,124.45 L705.07,124.66 L705.29,124.88 L705.52,125.10 L705.75,125.32 L705.97,125.55 L706.20,125.77 L706.43,126.01 L706.65,126.24 L706.88,126.49 L707.11,126.73 L707.33,126.98 L707.56,127.23 L707.79,127.48 L708.01,127.74 L708.24,128.01 L708.47,128.27 L708.70,128.54 L708.92,128.82 L709.15,129.10 L709.38,129.38 L709.60,129.66 L709.83,129.95 L710.06,130.25 L710.28,130.54 L710.51,130.85 L710.74,131.15 L710.96,131.46 L711.19,131.77 L711.42,132.09 L711.64,132.41 L711.87,132.74 L712.10,133.06 L712.32,133.40 L712.55,133.73 L712.78,134.08 L713.01,134.42 L713.23,134.77 L713.46,135.12 L713.69,135.48 L713.91,135.84 L714.14,136.21 L714.37,136.57 L714.59,136.95 L714.82,137.33 L715.05,137.71 L715.27,138.09 L715.50,138.48 L715.73,138.88 L715.95,139.28 L716.18,139.68 L716.41,140.09 L716.63,140.50 L716.86,140.91 L717.09,141.33 L717.32,141.76 L717.54,142.19 L717.77,142.62 L718.00,143.06 L718.22,143.50 L718.45,143.94 L718.68,144.39 L718.90,144.85 L719.13,145.31 L719.36,145.77 L719.58,146.24 L719.81,146.71 L720.04,147.19 L720.26,147.67 L720.49,148.15 L720.72,148.64 L720.94,149.14 L721.17,149.64 L721.40,150.14 L721.62,150.65 L721.85,151.16 L722.08,151.68 L722.31,152.20 L722.53,152.73 L722.76,153.26 L722.99,153.79 L723.21,154.34 L723.44,154.88 L723.67,155.43 L723.89,155.99 L724.12,156.54 L724.35,157.11 L724.57,157.68 L724.80,158.25 L725.03,158.83 L725.25,159.41 L725.48,160.00 L725.71,160.59 L725.93,161.19 L726.16,161.79 L726.39,162.40 L726.62,163.01 L726.84,163.63 L727.07,164.25 L727.30,164.88 L727.52,165.51 L727.75,166.15 L727.98,166.79 L728.20,167.44 L728.43,168.09 L728.66,168.75 L728.88,169.41 L729.11,170.08 L729.34,170.75 L729.56,171.43 L729.79,172.11 L730.02,172.80 L730.24,173.49 L730.47,174.19 L730.70,174.89 L730.93,175.60 L731.15,176.31 L731.38,177.03 L731.61,177.75 L731.83,178.48 L732.06,179.22 L732.29,179.96 L732.51,180.70 L732.74,181.45 L732.97,182.21 L733.19,182.97 L733.42,183.74 L733.65,184.51 L733.87,185.29 L734.10,186.07 L734.33,186.86 L734.55,187.65 L734.78,188.45 L735.01,189.25 L735.24,190.06 L735.46,190.88 L735.69,191.70 L735.92,192.53 L736.14,193.36 L736.37,194.20 L736.60,195.04 L736.82,195.89 L737.05,196.74 L737.28,197.60 L737.50,198.47 L737.73,199.34 L737.96,200.22 L738.18,201.10 L738.41,201.99 L738.64,202.88 L738.86,203.78 L739.09,204.69 L739.32,205.60 L739.54,206.52 L739.77,207.44 L740.00,208.37 L740.23,209.31 L740.45,210.25 L740.68,211.20 L740.91,212.15 L741.13,213.11 L741.36,214.08 L741.59,215.05 L741.81,216.02 L742.04,217.01 L742.27,218.00 L742.49,218.99 L742.72,219.99 L742.95,221.00 L743.17,222.01 L743.40,223.03 L743.63,224.06 L743.85,225.09 L744.08,226.13 L744.31,227.18 L744.54,228.23 L744.76,229.28 L744.99,230.35 L745.22,231.42 L745.44,232.49 L745.67,233.58 L745.90,234.66 L746.12,235.76 L746.35,236.86 L746.58,237.97 L746.80,239.08 L747.03,240.20 L747.26,241.33 L747.48,242.47 L747.71,243.61 L747.94,244.75 L748.16,245.91 L748.39,247.07 L748.62,248.23 L748.85,249.41 L749.07,250.59 L749.30,251.77 L749.53,252.96 L749.75,254.16 L749.98,255.37 L750.21,256.58 L750.43,257.80 L750.66,259.03 L750.89,260.27 L751.11,261.51 L751.34,262.75 L751.57,264.01 L751.79,265.27 L752.02,266.54 L752.25,267.81 L752.47,269.09 L752.70,270.38 L752.93,271.68 L753.16,272.98 L753.38,274.29 L753.61,275.61 L753.84,276.93 L754.06,278.26 L754.29,279.60 L754.52,280.94 L754.74,282.30 L754.97,283.66 L755.20,285.02 L755.42,286.40 L755.65,287.78 L755.88,289.17 L756.10,290.56 L756.33,291.97 L756.56,293.38 L756.78,294.79 L757.01,296.22 L757.24,297.65 L757.47,299.09 L757.69,300.54 L757.92,301.99 L758.15,303.46 L758.37,304.93 L758.60,306.40 L758.83,307.89 L759.05,309.38 L759.28,310.88 L759.51,312.39 L759.73,313.90 L759.96,315.43 L760.19,316.96 L760.41,318.50 L760.64,320.04 L760.87,321.60 L761.09,323.16 L761.32,324.73 L761.55,326.31 L761.77,327.89 L762.00,329.48 L762.23,331.09 L762.46,332.69 L762.68,334.31 L762.91,335.94 L763.14,337.57 L763.36,339.21 L763.59,340.86 L763.82,342.52 L764.04,344.18 L764.27,345.85 L764.50,347.54 L764.72,349.23 L764.95,350.92 L765.18,352.63 L765.40,354.34 L765.63,356.07 L765.86,357.80 L766.08,359.54 L766.31,361.28 L766.54,363.04 L766.77,364.80 L766.99,366.58 L767.22,368.36 L767.45,370.15 L767.67,371.95 L767.90,373.75 L768.13,375.57 L768.35,377.39 L768.58,379.22 L768.81,381.06 L769.03,382.91 L769.26,384.77 L769.49,386.64 L769.71,388.52 L769.94,390.40 L770.17,392.29 L770.39,394.20 L770.62,396.11 L770.85,398.03 L771.08,399.95 L771.30,401.89 L771.53,403.84 L771.76,405.79 L771.98,407.76 L772.21,409.73 L772.44,411.72 L772.66,413.71 L772.89,415.71 L773.12,417.72 L773.34,419.74 L773.57,421.76 L773.80,423.80 L774.02,425.85 L774.25,427.91 L774.48,429.97 L774.70,432.04 L774.93,434.13 L775.16,436.22 L775.39,438.33 L775.61,440.44 L775.84,442.56 L776.07,444.69 L776.29,446.83 L776.52,448.98 L776.75,451.14 L776.97,453.31 L777.20,455.49 L777.43,457.68 L777.65,459.88 L777.88,462.08 L778.11,464.30 L778.33,466.53 L778.56,468.77 L778.79,471.02 L779.01,473.27 L779.24,475.54 L779.47,477.82 L779.69,480.10 L779.92,482.40 L780.15,484.71 L780.38,487.03 L780.60,489.35 L780.83,491.69 L781.06,494.04 L781.28,496.39 L781.51,498.76 L781.74,501.14 L781.96,503.53 L782.19,505.93 L782.42,508.34 L782.64,510.76 L782.87,513.19 L783.10,515.63 L783.32,518.08 L783.55,520.54 L783.78,523.01 L784.00,525.49 L784.23,527.98 L784.46,530.49 L784.69,533.00 L784.91,535.53 L785.14,538.06 L785.37,540.61 L785.59,543.16 L785.82,545.73 L786.05,548.31 L786.27,550.90 L786.50,553.50" stroke="#ff00ff" stroke-width="1.65" stroke-dasharray="27.6 8.7 27.5 8.6 26.6 9.4 27.2 8.5 27.8 8.5 26.9 9.9 27.4 9.1 26.3 9.7 26.7 9.6 27.0 8.0 27.2 9.2 27.3 9.6 27.1 8.6 27.3 8.9 26.5 8.9 27.4 8.7 27.5 8.5 54.5 8.1 28.1 8.4 27.2 8.3 28.2 7.4 28.7 7.9 28.2 8.0 28.4 9.1 27.2 8.4 28.4 7.4 29.1 8.1 27.4 8.7 27.2 9.4 26.6 10.0 23.1 1000.0"/>
<path d="M446.47,741.30 L446.82,740.13 L447.17,738.97 L447.52,737.80 L447.87,736.64 L448.22,735.47 L448.57,734.30 L448.92,733.14 L449.27,731.97 L449.62,730.81 L449.97,729.64 L450.32,728.48 L450.67,727.31 L451.02,726.15 L451.36,724.98 L451.71,723.82 L452.06,722.66 L452.41,721.49 L452.76,720.33 L453.11,719.16 L453.46,718.00 L453.81,716.84 L454.16,715.67 L454.51,714.51 L454.86,713.35 L455.21,712.19 L455.56,711.02 L455.91,709.86 L456.26,708.70 L456.61,707.54 L456.96,706.38 L457.30,705.21 L457.65,704.05 L458.00,702.89 L458.35,701.73 L458.70,700.57 L459.05,699.41 L459.40,698.25 L459.75,697.09 L460.10,695.93 L461.40,741.50" stroke="#00ffff" stroke-width="1.7" stroke-dasharray="0 3.8 14.4 2.9 2.8 2.9 12.4 4.2 15.6 3.1 2.8 4 12.7 2.7 2.3 3.6 5"/>
<path d="M668.10,741.50 L668.22,738.52 L668.35,735.53 L668.47,732.55 L668.60,729.56 L668.72,726.58 L668.85,723.60 L668.97,720.61 L669.09,717.63 L669.22,714.64 L669.34,711.66 L669.46,708.68 L669.59,705.69 L669.71,702.71 L669.83,699.72 L669.95,696.74 L670.07,693.76 L670.19,690.77 L670.31,687.79 L670.43,684.80 L670.55,681.82 L670.67,678.84 L670.78,675.85 L670.90,672.87 L671.02,669.88 L671.14,666.90 L671.26,663.92 L671.39,660.93 L671.51,657.95 L671.63,654.96 L671.76,651.98 L671.89,648.99 L672.02,646.01 L672.15,643.03 L672.28,640.04 L672.41,637.06 L672.55,634.07 L672.68,631.09 L672.82,628.11 L672.96,625.12 L673.10,622.14 L673.25,619.15 L673.40,616.17 L673.55,613.19 L673.70,610.20 L673.86,607.22 L674.02,604.23 L674.18,601.25 L674.35,598.27 L674.52,595.28 L674.69,592.30 L674.87,589.31 L675.04,586.33 L675.22,583.35 L675.40,580.36 L675.58,577.38 L675.76,574.39 L675.95,571.41 L676.14,568.43 L676.33,565.44 L676.53,562.46 L676.72,559.47 L676.92,556.49 L677.12,553.51 L677.32,550.52 L677.51,547.54 L677.71,544.55 L677.90,541.57 L678.09,538.59 L678.27,535.60 L678.46,532.62 L678.64,529.63 L678.82,526.65 L679.01,523.67 L679.20,520.68 L679.39,517.70 L679.58,514.71 L679.77,511.73 L679.97,508.75 L680.17,505.76 L680.37,502.78 L680.56,499.79 L680.76,496.81 L680.96,493.83 L681.17,490.84 L681.37,487.86 L681.57,484.87 L681.77,481.89 L681.97,478.91 L682.18,475.92 L682.39,472.94 L682.60,469.95 L682.81,466.97 L683.03,463.98 L683.25,461.00 L683.48,458.02 L683.70,455.03 L683.93,452.05 L684.16,449.06 L684.40,446.08 L684.65,443.10 L684.90,440.11 L685.16,437.13 L685.42,434.14 L685.71,431.16 L686.01,428.18 L686.32,425.19 L686.63,422.21 L686.95,419.22 L687.25,416.24 L687.56,413.26 L687.85,410.27 L688.14,407.29 L688.42,404.30 L688.69,401.32 L688.95,398.34 L689.19,395.35 L689.41,392.37 L689.61,389.38 L689.80,386.40" stroke="#00ffff" stroke-width="1.7" stroke-dasharray="12 3.8 2 3.8" stroke-dashoffset="15.55"/>
<path d="M689.8,386.4 L691.4,392.4 L693.4,390.9" stroke="#00ffff" stroke-width="1.7" stroke-linecap="round"/>
<path d="M693.90,385.70 L694.13,383.49 L694.36,381.28 L694.59,379.07 L694.82,376.87 L695.06,374.66 L695.30,372.45 L695.56,370.24 L695.81,368.03 L696.05,365.82 L696.29,363.62 L696.51,361.41 L696.72,359.20 L696.92,356.99 L697.12,354.78 L697.33,352.57 L697.54,350.36 L697.76,348.16 L698.00,345.95 L698.24,343.74 L698.50,341.53 L698.77,339.32 L699.06,337.11 L699.37,334.91 L699.73,332.70 L700.09,330.49 L700.45,328.28 L700.77,326.07 L701.06,323.86 L701.33,321.65 L701.60,319.45 L701.88,317.24 L702.18,315.03 L702.52,312.82 L702.90,310.61 L703.29,308.40 L703.68,306.19 L704.06,303.99 L704.42,301.78 L704.79,299.57 L705.17,297.36 L705.57,295.15 L706.02,292.94 L706.51,290.74 L707.03,288.53 L707.55,286.32 L708.04,284.11 L708.50,281.90 L708.95,279.69 L709.40,277.48 L709.86,275.28 L710.36,273.07 L710.86,270.86 L711.39,268.65 L711.93,266.44 L712.50,264.23 L713.10,262.03 L713.74,259.82 L714.41,257.61 L715.10,255.40 L715.62,254.22 L716.14,253.24 L716.66,252.55 L717.18,252.01 L717.70,251.56 L718.22,251.13 L718.74,250.66 L719.26,250.11 L719.78,249.47 L720.31,248.78 L720.83,248.06 L721.35,247.34 L721.87,246.65 L722.39,246.02 L722.91,245.46 L723.43,245.01 L723.95,244.55 L724.47,244.09 L724.99,243.66 L725.51,243.26 L726.03,242.91 L726.55,242.64 L727.07,242.46 L727.59,242.40 L728.11,242.43 L728.63,242.51 L729.15,242.64 L729.67,242.81 L730.19,243.01 L730.72,243.24 L731.24,243.48 L731.76,243.73 L732.28,244.07 L732.80,244.49 L733.32,244.99 L733.84,245.55 L734.36,246.16 L734.88,246.81 L735.40,247.50 L735.83,248.96 L736.23,250.42 L736.60,251.88 L736.91,253.33 L737.17,254.79 L737.41,256.25 L737.62,257.71 L737.81,259.17 L737.99,260.63 L738.16,262.09 L738.33,263.54 L738.49,265.00 L738.65,266.46 L738.81,267.92 L738.95,269.38 L739.09,270.84 L739.21,272.30 L739.32,273.76 L739.42,275.21 L739.51,276.67 L739.60,278.13 L739.68,279.59 L739.76,281.05 L739.84,282.51 L739.91,283.97 L739.97,285.42 L740.02,286.88 L740.07,288.34 L740.10,289.80 L740.49,290.30 L740.88,290.82 L741.27,291.37 L741.66,291.94 L742.05,292.54 L742.43,293.16 L742.82,293.80 L743.21,294.45 L743.60,295.13 L743.99,295.82 L744.38,296.53 L744.77,297.27 L745.16,298.04 L745.55,298.86 L745.94,299.71 L746.33,300.62 L746.71,301.59 L747.10,302.64 L747.49,303.75 L747.88,304.92 L748.27,306.14 L748.66,307.40 L749.05,308.68 L749.44,309.99 L749.83,311.34 L750.22,312.77 L750.61,314.27 L750.99,315.80 L751.38,317.34 L751.77,318.87 L752.16,320.36 L752.55,321.78 L752.94,323.09 L753.33,324.34 L753.72,325.62 L754.11,327.03 L754.50,328.61 L754.88,330.29 L755.27,332.06 L755.66,333.91 L756.05,335.84 L756.44,337.84 L756.83,339.90 L757.22,342.02 L757.61,344.19 L758.00,346.40 L758.39,348.66 L758.78,350.94 L759.16,353.24 L759.55,355.57 L759.94,357.91 L760.33,360.25 L760.72,362.59 L761.11,364.92 L761.50,367.24 L761.89,369.54 L762.28,371.81 L762.67,374.06 L763.06,376.36 L763.44,378.67 L763.83,380.94 L764.22,383.15 L764.61,385.33 L765.00,387.50 L765.39,389.69 L765.78,391.91 L766.17,394.21 L766.56,396.59 L766.95,399.08 L767.34,401.72 L767.72,404.57 L768.11,407.58 L768.50,410.69 L768.89,413.84 L769.28,416.98 L769.67,420.04 L770.06,422.99 L770.45,425.84 L770.84,428.64 L771.23,431.41 L771.62,434.18 L772.00,436.98 L772.39,439.84 L772.78,442.76 L773.17,445.81 L773.56,448.96 L773.95,452.16 L774.34,455.34 L774.73,458.46 L775.12,461.45 L775.51,464.35 L775.89,467.16 L776.28,469.91 L776.67,472.62 L777.06,475.30 L777.45,477.96 L777.84,480.63 L778.23,483.33 L778.62,486.07 L779.01,488.87 L779.40,491.74 L779.79,494.71 L780.17,497.79 L780.56,500.99 L780.95,504.29 L781.34,507.61 L781.73,510.99 L782.12,514.48 L782.51,518.09 L782.90,521.88 L783.29,525.87 L783.68,530.11 L784.07,534.62 L784.45,539.45 L784.84,544.90 L785.23,551.01 L785.62,557.66 L786.01,564.70 L786.40,572.00" stroke="#00ffff" stroke-width="1.7" stroke-dasharray="12 3.8 2 3.8" stroke-dashoffset="0.66"/>
</g>
<g stroke="#000" stroke-opacity="0.58" stroke-width="1" fill="none">
</g>
<path d="M90.5,45 V742" stroke="#787878" stroke-width="1" fill="none"/>
<path d="M90,45.5 H787" stroke="#858585" stroke-width="1" fill="none"/>
<path d="M90,741.5 H787" stroke="#565656" stroke-width="1" fill="none"/>
<path d="M786.5,45 V742" stroke="#2a2a2a" stroke-width="1" fill="none"/>
<g stroke="#000" stroke-opacity="0.6" stroke-width="1" fill="none">
<path d="M142.88,45.40 v6.30 M142.88,741.30 v-6.30"/>
<path d="M173.52,45.40 v6.30 M173.52,741.30 v-6.30"/>
<path d="M195.26,45.40 v6.30 M195.26,741.30 v-6.30"/>
<path d="M212.12,45.40 v6.30 M212.12,741.30 v-6.30"/>
<path d="M225.90,45.40 v6.30 M225.90,741.30 v-6.30"/>
<path d="M237.55,45.40 v6.30 M237.55,741.30 v-6.30"/>
<path d="M247.64,45.40 v6.30 M247.64,741.30 v-6.30"/>
<path d="M256.54,45.40 v6.30 M256.54,741.30 v-6.30"/>
<path d="M264.50,45.40 v12.80 M264.50,741.30 v-12.80"/>
<path d="M316.88,45.40 v6.30 M316.88,741.30 v-6.30"/>
<path d="M347.52,45.40 v6.30 M347.52,741.30 v-6.30"/>
<path d="M369.26,45.40 v6.30 M369.26,741.30 v-6.30"/>
<path d="M386.12,45.40 v6.30 M386.12,741.30 v-6.30"/>
<path d="M399.90,45.40 v6.30 M399.90,741.30 v-6.30"/>
<path d="M411.55,45.40 v6.30 M411.55,741.30 v-6.30"/>
<path d="M421.64,45.40 v6.30 M421.64,741.30 v-6.30"/>
<path d="M430.54,45.40 v6.30 M430.54,741.30 v-6.30"/>
<path d="M438.50,45.40 v12.80 M438.50,741.30 v-12.80"/>
<path d="M490.88,45.40 v6.30 M490.88,741.30 v-6.30"/>
<path d="M521.52,45.40 v6.30 M521.52,741.30 v-6.30"/>
<path d="M543.26,45.40 v6.30 M543.26,741.30 v-6.30"/>
<path d="M560.12,45.40 v6.30 M560.12,741.30 v-6.30"/>
<path d="M573.90,45.40 v6.30 M573.90,741.30 v-6.30"/>
<path d="M585.55,45.40 v6.30 M585.55,741.30 v-6.30"/>
<path d="M595.64,45.40 v6.30 M595.64,741.30 v-6.30"/>
<path d="M604.54,45.40 v6.30 M604.54,741.30 v-6.30"/>
<path d="M612.50,45.40 v12.80 M612.50,741.30 v-12.80"/>
<path d="M664.88,45.40 v6.30 M664.88,741.30 v-6.30"/>
<path d="M695.52,45.40 v6.30 M695.52,741.30 v-6.30"/>
<path d="M717.26,45.40 v6.30 M717.26,741.30 v-6.30"/>
<path d="M734.12,45.40 v6.30 M734.12,741.30 v-6.30"/>
<path d="M747.90,45.40 v6.30 M747.90,741.30 v-6.30"/>
<path d="M759.55,45.40 v6.30 M759.55,741.30 v-6.30"/>
<path d="M769.64,45.40 v6.30 M769.64,741.30 v-6.30"/>
<path d="M778.54,45.40 v6.30 M778.54,741.30 v-6.30"/>
<path d="M90.50,681.41 h5.60 M786.50,681.41 h-5.60"/>
<path d="M90.50,646.38 h5.60 M786.50,646.38 h-5.60"/>
<path d="M90.50,621.52 h5.60 M786.50,621.52 h-5.60"/>
<path d="M90.50,602.24 h5.60 M786.50,602.24 h-5.60"/>
<path d="M90.50,586.49 h5.60 M786.50,586.49 h-5.60"/>
<path d="M90.50,573.17 h5.60 M786.50,573.17 h-5.60"/>
<path d="M90.50,561.63 h5.60 M786.50,561.63 h-5.60"/>
<path d="M90.50,551.45 h5.60 M786.50,551.45 h-5.60"/>
<path d="M90.50,542.35 h11.30 M786.50,542.35 h-11.30"/>
<path d="M90.50,482.46 h5.60 M786.50,482.46 h-5.60"/>
<path d="M90.50,447.43 h5.60 M786.50,447.43 h-5.60"/>
<path d="M90.50,422.57 h5.60 M786.50,422.57 h-5.60"/>
<path d="M90.50,403.29 h5.60 M786.50,403.29 h-5.60"/>
<path d="M90.50,387.54 h5.60 M786.50,387.54 h-5.60"/>
<path d="M90.50,374.22 h5.60 M786.50,374.22 h-5.60"/>
<path d="M90.50,362.68 h5.60 M786.50,362.68 h-5.60"/>
<path d="M90.50,352.50 h5.60 M786.50,352.50 h-5.60"/>
<path d="M90.50,343.40 h11.30 M786.50,343.40 h-11.30"/>
<path d="M90.50,283.51 h5.60 M786.50,283.51 h-5.60"/>
<path d="M90.50,248.48 h5.60 M786.50,248.48 h-5.60"/>
<path d="M90.50,223.62 h5.60 M786.50,223.62 h-5.60"/>
<path d="M90.50,204.34 h5.60 M786.50,204.34 h-5.60"/>
<path d="M90.50,188.59 h5.60 M786.50,188.59 h-5.60"/>
<path d="M90.50,175.27 h5.60 M786.50,175.27 h-5.60"/>
<path d="M90.50,163.73 h5.60 M786.50,163.73 h-5.60"/>
<path d="M90.50,153.55 h5.60 M786.50,153.55 h-5.60"/>
<path d="M90.50,144.45 h11.30 M786.50,144.45 h-11.30"/>
<path d="M90.50,84.56 h5.60 M786.50,84.56 h-5.60"/>
<path d="M90.50,49.53 h5.60 M786.50,49.53 h-5.60"/>
</g>
<circle cx="141" cy="70.4" r="3.1" fill="#000"/>
<path d="M115.4,95.7 H165.5" stroke="#ff0000" stroke-width="2"/>
<path d="M115.4,121.1 H165.5" stroke="#0000ff" stroke-width="1.8" stroke-dasharray="2.4 3.5"/>
<path d="M115.4,146.2 H124.7 M134.7,146.2 H144.3 M154.5,146.2 H165.1" stroke="#00ff00" stroke-width="1.8"/>
<path d="M115.4,171.2 H141.4 M151.6,171.2 H165.1" stroke="#ff00ff" stroke-width="1.8"/>
<path d="M115.4,197 H117.3 M122.7,197 H135.6 M139,197 H141 M144.7,197 H157.2 M160.7,197 H162.6" stroke="#00ffff" stroke-width="1.6"/>
<g id="xl">
<text transform="translate(295.83,805.40) scale(1.316,1)" font-family="Liberation Serif" font-size="22.20" font-weight="normal" font-style="normal" fill="#1a1a1a">p</text>
<text transform="translate(311.33,805.40) scale(1.256,1)" font-family="Liberation Serif" font-size="22.20" font-weight="normal" font-style="normal" fill="#1a1a1a">h</text>
<text transform="translate(326.38,805.40) scale(1.084,1)" font-family="Liberation Serif" font-size="22.20" font-weight="normal" font-style="normal" fill="#1a1a1a">o</text>
<text transform="translate(339.22,805.40) scale(1.271,1)" font-family="Liberation Serif" font-size="22.20" font-weight="normal" font-style="normal" fill="#1a1a1a">t</text>
<text transform="translate(347.96,805.40) scale(1.116,1)" font-family="Liberation Serif" font-size="22.20" font-weight="normal" font-style="normal" fill="#1a1a1a">o</text>
<text transform="translate(360.76,805.40) scale(1.258,1)" font-family="Liberation Serif" font-size="22.20" font-weight="normal" font-style="normal" fill="#1a1a1a">n</text>
<text transform="translate(386.09,805.40) scale(1.278,1)" font-family="Liberation Serif" font-size="22.20" font-weight="normal" font-style="normal" fill="#1a1a1a">e</text>
<text transform="translate(398.85,805.40) scale(1.268,1)" font-family="Liberation Serif" font-size="22.20" font-weight="normal" font-style="normal" fill="#1a1a1a">n</text>
<text transform="translate(413.19,805.40) scale(1.278,1)" font-family="Liberation Serif" font-size="22.20" font-weight="normal" font-style="normal" fill="#1a1a1a">e</text>
<text transform="translate(426.14,805.40) scale(1.350,1)" font-family="Liberation Serif" font-size="22.20" font-weight="normal" font-style="normal" fill="#1a1a1a">r</text>
<text transform="translate(436.31,805.40) scale(1.244,1)" font-family="Liberation Serif" font-size="22.20" font-weight="normal" font-style="normal" fill="#1a1a1a">g</text>
<text transform="translate(450.20,805.40) scale(1.089,1)" font-family="Liberation Serif" font-size="22.20" font-weight="normal" font-style="normal" fill="#1a1a1a">y</text>
<text transform="translate(474.34,805.40) scale(1.087,1)" font-family="Liberation Serif" font-size="22.20" font-weight="normal" font-style="normal" fill="#1a1a1a">(</text>
<text transform="translate(482.81,805.40) scale(1.254,1)" font-family="Liberation Serif" font-size="22.20" font-weight="normal" font-style="normal" fill="#1a1a1a">e</text>
<text transform="translate(495.47,805.40) scale(0.927,1)" font-family="Liberation Serif" font-size="22.20" font-weight="normal" font-style="normal" fill="#1a1a1a">V</text>
<text transform="translate(509.75,805.40) scale(1.052,1)" font-family="Liberation Serif" font-size="22.20" font-weight="normal" font-style="normal" fill="#1a1a1a">)</text>
</g>
<g id="yl" transform="translate(32.9,510.6) rotate(-90)">
<text transform="translate(-0.34,0.00) scale(1.071,1)" font-family="Liberation Serif" font-size="23.00" font-weight="normal" font-style="italic" fill="#1a1a1a">ν</text>
<text transform="translate(25.62,6.00) scale(0.911,1)" font-family="Liberation Serif" font-size="14.80" font-weight="normal" font-style="italic" fill="#1a1a1a">ν</text>
<text transform="translate(12.13,0.00) scale(1.055,1)" font-family="Liberation Serif" font-size="22.20" font-weight="normal" font-style="normal" fill="#1a1a1a">F</text>
<text transform="translate(44.51,0.00) scale(1.017,1)" font-family="Liberation Serif" font-size="22.20" font-weight="normal" font-style="normal" fill="#1a1a1a">(</text>
<text transform="translate(53.18,0.00) scale(1.181,1)" font-family="Liberation Serif" font-size="22.20" font-weight="normal" font-style="normal" fill="#1a1a1a">e</text>
<text transform="translate(64.35,0.00) scale(1.229,1)" font-family="Liberation Serif" font-size="22.20" font-weight="normal" font-style="normal" fill="#1a1a1a">r</text>
<text transform="translate(74.52,0.00) scale(1.131,1)" font-family="Liberation Serif" font-size="22.20" font-weight="normal" font-style="normal" fill="#1a1a1a">g</text>
<text transform="translate(104.35,0.00) scale(1.155,1)" font-family="Liberation Serif" font-size="22.20" font-weight="normal" font-style="normal" fill="#1a1a1a">s</text>
<text transform="translate(132.05,0.00) scale(1.129,1)" font-family="Liberation Serif" font-size="22.20" font-weight="normal" font-style="normal" fill="#1a1a1a">c</text>
<text transform="translate(144.05,0.00) scale(1.185,1)" font-family="Liberation Serif" font-size="22.20" font-weight="normal" font-style="normal" fill="#1a1a1a">m</text>
<text transform="translate(181.25,0.00) scale(1.129,1)" font-family="Liberation Serif" font-size="22.20" font-weight="normal" font-style="normal" fill="#1a1a1a">c</text>
<text transform="translate(193.14,0.00) scale(1.191,1)" font-family="Liberation Serif" font-size="22.20" font-weight="normal" font-style="normal" fill="#1a1a1a">m</text>
<text transform="translate(215.75,0.00) scale(1.193,1)" font-family="Liberation Serif" font-size="22.20" font-weight="normal" font-style="normal" fill="#1a1a1a">)</text>
<path d="M91.40,3.6 L102.90,-17.9" stroke="#1a1a1a" stroke-width="1.15" fill="none"/>
<path d="M118.20,3.6 L129.00,-17.9" stroke="#1a1a1a" stroke-width="1.15" fill="none"/>
<path d="M166.70,3.6 L178.90,-17.9" stroke="#1a1a1a" stroke-width="1.15" fill="none"/>
</g>
<text transform="translate(37.88,153.05) scale(0.809,1)" font-family="Liberation Serif" font-size="18.60" font-weight="normal" font-style="normal" fill="#222">1</text>
<text transform="translate(46.97,153.05) scale(1.167,1)" font-family="Liberation Serif" font-size="18.60" font-weight="normal" font-style="normal" fill="#222">0</text>
<text transform="translate(58.18,143.85) scale(1.350,1)" font-family="Liberation Serif" font-size="10.80" font-weight="normal" font-style="normal" fill="#222">−</text>
<text transform="translate(67.03,143.85) scale(1.131,1)" font-family="Liberation Serif" font-size="10.80" font-weight="normal" font-style="normal" fill="#222">1</text>
<text transform="translate(73.44,143.85) scale(1.350,1)" font-family="Liberation Serif" font-size="10.80" font-weight="normal" font-style="normal" fill="#222">2</text>
<text transform="translate(37.88,352.00) scale(0.809,1)" font-family="Liberation Serif" font-size="18.60" font-weight="normal" font-style="normal" fill="#222">1</text>
<text transform="translate(46.97,352.00) scale(1.167,1)" font-family="Liberation Serif" font-size="18.60" font-weight="normal" font-style="normal" fill="#222">0</text>
<text transform="translate(58.18,342.80) scale(1.350,1)" font-family="Liberation Serif" font-size="10.80" font-weight="normal" font-style="normal" fill="#222">−</text>
<text transform="translate(67.03,342.80) scale(1.131,1)" font-family="Liberation Serif" font-size="10.80" font-weight="normal" font-style="normal" fill="#222">1</text>
<text transform="translate(73.29,342.80) scale(1.350,1)" font-family="Liberation Serif" font-size="10.80" font-weight="normal" font-style="normal" fill="#222">3</text>
<text transform="translate(37.88,550.95) scale(0.809,1)" font-family="Liberation Serif" font-size="18.60" font-weight="normal" font-style="normal" fill="#222">1</text>
<text transform="translate(46.97,550.95) scale(1.167,1)" font-family="Liberation Serif" font-size="18.60" font-weight="normal" font-style="normal" fill="#222">0</text>
<text transform="translate(58.18,541.75) scale(1.350,1)" font-family="Liberation Serif" font-size="10.80" font-weight="normal" font-style="normal" fill="#222">−</text>
<text transform="translate(67.03,541.75) scale(1.131,1)" font-family="Liberation Serif" font-size="10.80" font-weight="normal" font-style="normal" fill="#222">1</text>
<text transform="translate(73.64,541.75) scale(1.235,1)" font-family="Liberation Serif" font-size="10.80" font-weight="normal" font-style="normal" fill="#222">4</text>
<text transform="translate(37.88,749.90) scale(0.809,1)" font-family="Liberation Serif" font-size="18.60" font-weight="normal" font-style="normal" fill="#222">1</text>
<text transform="translate(46.97,749.90) scale(1.167,1)" font-family="Liberation Serif" font-size="18.60" font-weight="normal" font-style="normal" fill="#222">0</text>
<text transform="translate(58.18,740.70) scale(1.350,1)" font-family="Liberation Serif" font-size="10.80" font-weight="normal" font-style="normal" fill="#222">−</text>
<text transform="translate(67.03,740.70) scale(1.131,1)" font-family="Liberation Serif" font-size="10.80" font-weight="normal" font-style="normal" fill="#222">1</text>
<text transform="translate(73.22,740.70) scale(1.350,1)" font-family="Liberation Serif" font-size="10.80" font-weight="normal" font-style="normal" fill="#222">5</text>
<g id="l1">
<text transform="translate(172.23,101.00) scale(0.928,1)" font-family="Liberation Serif" font-size="18.80" font-weight="normal" font-style="normal" fill="#ff0000" stroke="#ff0000" stroke-width="0.80" stroke-linejoin="round">A</text>
<text transform="translate(185.04,101.00) scale(0.859,1)" font-family="Liberation Serif" font-size="18.80" font-weight="normal" font-style="normal" fill="#ff0000" stroke="#ff0000" stroke-width="0.80" stroke-linejoin="round">G</text>
<text transform="translate(197.19,101.00) scale(0.939,1)" font-family="Liberation Serif" font-size="18.80" font-weight="normal" font-style="normal" fill="#ff0000" stroke="#ff0000" stroke-width="0.80" stroke-linejoin="round">B</text>
<text transform="translate(208.74,101.00) scale(1.036,1)" font-family="Liberation Serif" font-size="18.80" font-weight="normal" font-style="normal" fill="#ff0000" stroke="#ff0000" stroke-width="0.80" stroke-linejoin="round">(</text>
<text transform="translate(216.03,101.00) scale(1.079,1)" font-family="Liberation Serif" font-size="18.80" font-weight="normal" font-style="normal" fill="#ff0000" stroke="#ff0000" stroke-width="0.80" stroke-linejoin="round">0</text>
<text transform="translate(227.45,101.00) scale(0.765,1)" font-family="Liberation Serif" font-size="18.80" font-weight="normal" font-style="normal" fill="#ff0000" stroke="#ff0000" stroke-width="0.80" stroke-linejoin="round">.</text>
<text transform="translate(230.95,101.00) scale(1.168,1)" font-family="Liberation Serif" font-size="18.80" font-weight="normal" font-style="normal" fill="#ff0000" stroke="#ff0000" stroke-width="0.80" stroke-linejoin="round">7</text>
<text transform="translate(242.14,101.00) scale(1.181,1)" font-family="Liberation Serif" font-size="18.80" font-weight="normal" font-style="normal" fill="#ff0000" stroke="#ff0000" stroke-width="0.80" stroke-linejoin="round">7</text>
<text transform="translate(253.54,101.00) scale(0.858,1)" font-family="Liberation Serif" font-size="18.80" font-weight="normal" font-style="normal" fill="#ff0000" stroke="#ff0000" stroke-width="0.80" stroke-linejoin="round">M</text>
<text transform="translate(278.63,101.00) scale(0.720,1)" font-family="Liberation Serif" font-size="18.80" font-weight="normal" font-style="normal" fill="#ff0000" stroke="#ff0000" stroke-width="0.80" stroke-linejoin="round">,</text>
<text transform="translate(282.15,101.00) scale(1.058,1)" font-family="Liberation Serif" font-size="18.80" font-weight="normal" font-style="normal" fill="#ff0000" stroke="#ff0000" stroke-width="0.80" stroke-linejoin="round">6</text>
<text transform="translate(293.03,101.00) scale(1.082,1)" font-family="Liberation Serif" font-size="18.80" font-weight="normal" font-style="normal" fill="#ff0000" stroke="#ff0000" stroke-width="0.80" stroke-linejoin="round">3</text>
<text transform="translate(303.74,101.00) scale(1.084,1)" font-family="Liberation Serif" font-size="18.80" font-weight="normal" font-style="normal" fill="#ff0000" stroke="#ff0000" stroke-width="0.80" stroke-linejoin="round">9</text>
<text transform="translate(314.40,101.00) scale(1.103,1)" font-family="Liberation Serif" font-size="18.80" font-weight="normal" font-style="normal" fill="#ff0000" stroke="#ff0000" stroke-width="0.80" stroke-linejoin="round">R</text>
<text transform="translate(338.83,101.00) scale(0.720,1)" font-family="Liberation Serif" font-size="18.80" font-weight="normal" font-style="normal" fill="#ff0000" stroke="#ff0000" stroke-width="0.80" stroke-linejoin="round">,</text>
<text transform="translate(342.77,101.00) scale(1.128,1)" font-family="Liberation Serif" font-size="18.80" font-weight="normal" font-style="normal" fill="#ff0000" stroke="#ff0000" stroke-width="0.80" stroke-linejoin="round">2</text>
<text transform="translate(353.91,101.00) scale(1.064,1)" font-family="Liberation Serif" font-size="18.80" font-weight="normal" font-style="normal" fill="#ff0000" stroke="#ff0000" stroke-width="0.80" stroke-linejoin="round">4</text>
<text transform="translate(365.21,101.00) scale(1.076,1)" font-family="Liberation Serif" font-size="18.80" font-weight="normal" font-style="normal" fill="#ff0000" stroke="#ff0000" stroke-width="0.80" stroke-linejoin="round">4</text>
<text transform="translate(376.51,101.00) scale(1.076,1)" font-family="Liberation Serif" font-size="18.80" font-weight="normal" font-style="normal" fill="#ff0000" stroke="#ff0000" stroke-width="0.80" stroke-linejoin="round">4</text>
<text transform="translate(387.86,101.00) scale(0.989,1)" font-family="Liberation Serif" font-size="18.80" font-weight="normal" font-style="normal" fill="#ff0000" stroke="#ff0000" stroke-width="0.80" stroke-linejoin="round">K</text>
<text transform="translate(401.70,101.00) scale(0.828,1)" font-family="Liberation Serif" font-size="18.80" font-weight="normal" font-style="normal" fill="#ff0000" stroke="#ff0000" stroke-width="0.80" stroke-linejoin="round">)</text>
<circle cx="272.8" cy="101.9" r="3.6" fill="none" stroke="#ff0000" stroke-width="1.3"/><circle cx="272.8" cy="101.9" r="1.25" fill="#ff0000"/>
<circle cx="333.4" cy="101.9" r="3.6" fill="none" stroke="#ff0000" stroke-width="1.3"/><circle cx="333.4" cy="101.9" r="1.25" fill="#ff0000"/>
</g>
<g id="l2">
<text transform="translate(172.06,127.00) scale(0.872,1)" font-family="Liberation Serif" font-size="18.80" font-weight="normal" font-style="normal" fill="#0000ff" stroke="#0000ff" stroke-width="0.80" stroke-linejoin="round">i</text>
<text transform="translate(177.26,127.00) scale(0.993,1)" font-family="Liberation Serif" font-size="18.80" font-weight="normal" font-style="normal" fill="#0000ff" stroke="#0000ff" stroke-width="0.80" stroke-linejoin="round">D</text>
<text transform="translate(190.84,127.00) scale(0.976,1)" font-family="Liberation Serif" font-size="18.80" font-weight="normal" font-style="normal" fill="#0000ff" stroke="#0000ff" stroke-width="0.80" stroke-linejoin="round">I</text>
<text transform="translate(196.56,127.00) scale(0.984,1)" font-family="Liberation Serif" font-size="18.80" font-weight="normal" font-style="normal" fill="#0000ff" stroke="#0000ff" stroke-width="0.80" stroke-linejoin="round">S</text>
<text transform="translate(206.51,127.00) scale(0.911,1)" font-family="Liberation Serif" font-size="18.80" font-weight="normal" font-style="normal" fill="#0000ff" stroke="#0000ff" stroke-width="0.80" stroke-linejoin="round">K</text>
<text transform="translate(219.54,127.00) scale(1.036,1)" font-family="Liberation Serif" font-size="18.80" font-weight="normal" font-style="normal" fill="#0000ff" stroke="#0000ff" stroke-width="0.80" stroke-linejoin="round">(</text>
<text transform="translate(226.83,127.00) scale(1.061,1)" font-family="Liberation Serif" font-size="18.80" font-weight="normal" font-style="normal" fill="#0000ff" stroke="#0000ff" stroke-width="0.80" stroke-linejoin="round">F</text>
<text transform="translate(304.31,127.00) scale(0.973,1)" font-family="Liberation Serif" font-size="18.80" font-weight="normal" font-style="normal" fill="#0000ff" stroke="#0000ff" stroke-width="0.80" stroke-linejoin="round">)</text>
<text transform="translate(238.66,133.00) scale(1.026,1)" font-family="Liberation Serif" font-size="13.60" font-weight="normal" font-style="italic" fill="#0000ff" stroke="#0000ff" stroke-width="0.50" stroke-linejoin="round">ν</text>
<text transform="translate(278.04,126.70) scale(1.083,1)" font-family="Liberation Serif" font-size="17.60" font-weight="normal" font-style="italic" fill="#0000ff" stroke="#0000ff" stroke-width="0.80" stroke-linejoin="round">ν</text>
<text transform="translate(289.06,119.40) scale(1.048,1)" font-family="Liberation Serif" font-size="12.30" font-weight="normal" font-style="normal" fill="#0000ff" stroke="#0000ff" stroke-width="0.60" stroke-linejoin="round">−</text>
<text transform="translate(296.63,119.50) scale(1.121,1)" font-family="Liberation Serif" font-size="11.40" font-weight="normal" font-style="normal" fill="#0000ff" stroke="#0000ff" stroke-width="0.50" stroke-linejoin="round">1</text>
<path transform="translate(254.8,118.0)" d="M11.4,0.7 C8.6,0.2 7.0,6.3 3.5,6.3 C1.6,6.3 0.8,5.0 0.8,3.5 C0.8,2.0 1.6,0.7 3.5,0.7 C7.0,0.7 8.6,6.8 11.4,6.3" fill="none" stroke="#0000ff" stroke-width="1.5"/>
</g>
</svg>
<div class="t sans" id="x0" style="left:74.0px;top:755.26px;color:#000;font-size:18.6px">0.1</div>
<div class="t sans" id="x1" style="left:259.0px;top:755.26px;color:#000;font-size:18.6px">1</div>
<div class="t sans" id="x2" style="left:428.0px;top:755.26px;color:#000;font-size:18.6px">10</div>
<div class="t sans" id="x3" style="left:597.2px;top:755.26px;color:#000;font-size:18.6px">100</div>
<div class="t sans" id="x4" style="left:765.4px;top:755.26px;color:#000;font-size:18.6px">1000</div>
<div class="t sans" id="lo" style="left:170.8px;top:64.13px;color:#000;font-size:19.1px">Observations</div>
<div class="t sans" id="lg" style="left:171.2px;top:139.43px;color:#00ff00;font-size:19.1px">AGB+iDISK</div>
<div class="t sans" id="lm" style="left:170.8px;top:164.03px;color:#ff00ff;font-size:19.1px">BB(73eV)</div>
<div class="t sans" id="lc" style="left:170.8px;top:189.23px;color:#00ffff;font-size:19.1px">BB(nH=8.6e20)</div>
</body></html>
